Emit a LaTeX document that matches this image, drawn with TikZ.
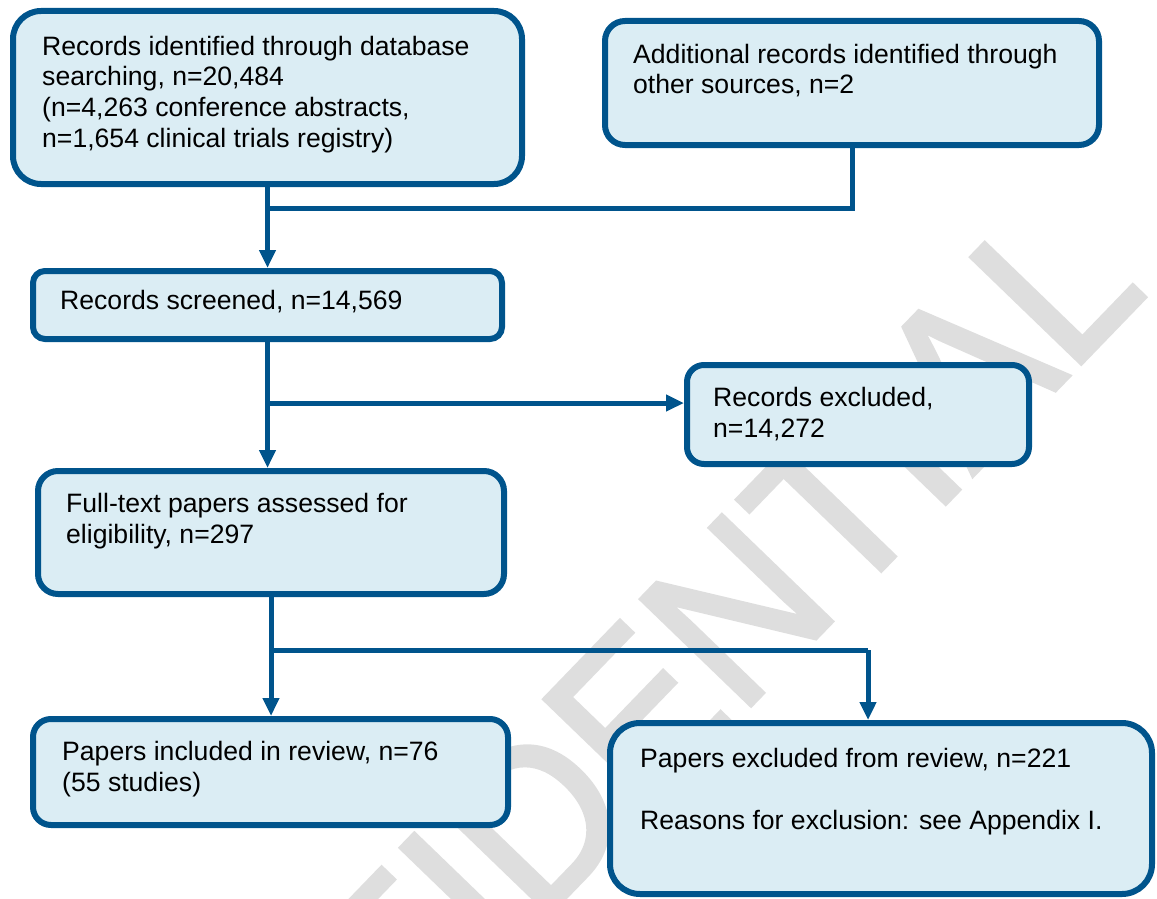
\documentclass[tikz,border=0pt]{standalone}
\usepackage{fontspec}
\setmainfont{Liberation Sans}
\newfontfamily\markfont[FakeBold=2]{Liberation Sans}
\usetikzlibrary{arrows.meta,positioning}

\definecolor{boxblue}{RGB}{0,84,140}
\definecolor{boxfill}{RGB}{219,237,244}
\definecolor{markgray}{RGB}{222,222,222}

\tikzset{
  flowbox/.style={draw=boxblue,fill=boxfill,line width=6pt,inner sep=0pt,anchor=north west},
  boxtext/.style={anchor=base west,align=left,inner sep=0pt,font=\fontsize{26.6}{30.6}\selectfont},
  wmark/.style={text=markgray,inner sep=0pt,font=\markfont\fontsize{222}{222}\selectfont},
  link/.style={draw=boxblue,line width=5pt},
  linkarrow/.style={link,-{Triangle[length=18pt,width=16pt]}},
}

\begin{document}
\begin{tikzpicture}[x=1pt,y=-1pt]
\useasboundingbox (0,0) rectangle (1157,899);
% watermark behind everything
\begin{scope}
\clip (0,0) rectangle (1157,899);
\node[wmark,rotate=46,xscale=0.94,anchor=base east] (wmtext) at (1150,292) {CONFIDENTIAL};
\end{scope}

% boxes
\node[flowbox,minimum width=509pt,minimum height=173pt,rounded corners=28pt] (ident) at (10,8) {};
\node[flowbox,minimum width=494pt,minimum height=124pt,rounded corners=20pt] (other) at (602,18) {};
\node[flowbox,minimum width=469pt,minimum height=68pt,rounded corners=12pt] (screen) at (30,268) {};
\node[flowbox,minimum width=342pt,minimum height=99pt,rounded corners=17pt] (recex) at (684,362) {};
\node[flowbox,minimum width=466pt,minimum height=123pt,rounded corners=20pt] (full) at (35,468) {};
\node[flowbox,minimum width=475pt,minimum height=106pt,rounded corners=18pt] (incl) at (30,716) {};
\node[flowbox,minimum width=542pt,minimum height=171pt,rounded corners=30pt] (papex) at (607,720) {};

% texts (placed at the baseline of the last line)
\node[boxtext] (identtxt) at (42,147) {Records identified through database\\searching, n=20,484\\(n=4,263 conference abstracts,\\n=1,654 clinical trials registry)};
\node[boxtext] (othertxt) at (633,94) {Additional records identified through\\other sources, n=2};
\node[boxtext] (screentxt) at (60,309) {Records screened, n=14,569};
\node[boxtext] (recextxt) at (713,437) {Records excluded,\\n=14,272};
\node[boxtext] (fulltxt) at (66,543) {Full-text papers assessed for\\eligibility, n=297};
\node[boxtext] (incltxt) at (62,791) {Papers included in review, n=76\\(55 studies)};
\node[boxtext] (papextxt) at (640,829) {Papers excluded from review, n=221\\[30.6pt]Reasons for exclusion: see Appendix I.};

% connectors
\coordinate (srcjoin) at (268,208);
\coordinate (exjoin) at (268,403);
\coordinate (papjoin) at (271,650);
\coordinate (papdrop) at (868,650);
\draw[link] (other.south) |- (srcjoin);
\draw[linkarrow] (ident.south) -- (screen.north);
\draw[linkarrow] (screen.south) -- (screen.south |- full.north);
\draw[linkarrow] (exjoin) -- (exjoin -| recex.west);
\draw[linkarrow] (full.south) -- (full.south |- incl.north);
\draw[link] (papjoin) -- (papdrop);
\draw[linkarrow] (papdrop) -- (papdrop |- papex.north);
\end{tikzpicture}
\end{document}
